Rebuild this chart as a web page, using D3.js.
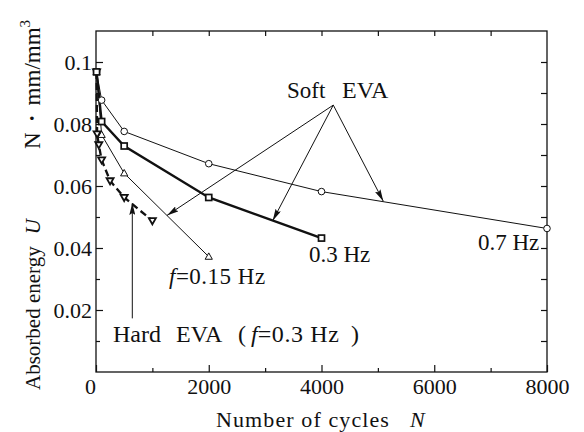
<!DOCTYPE html>
<html>
<head>
<meta charset="utf-8">
<script src="https://cdn.jsdelivr.net/npm/d3@7"></script>
<style>
  html, body { margin: 0; padding: 0; background: #fff; }
  svg { display: block; }
  text { font-family: "Liberation Serif", "Times New Roman", serif; fill: #111; }
</style>
</head>
<body>
<svg id="chart" width="584" height="432"></svg>
<script>
// Absorbed energy per cycle for soft and hard EVA
const cycles07 = [10, 100, 500, 2000, 4000, 8000];
const energy07 = [0.0968, 0.0877, 0.0776, 0.0672, 0.0582, 0.0463];

const cycles03 = [10, 100, 500, 2000, 4000];
const energy03 = [0.0968, 0.0808, 0.0729, 0.0563, 0.0432];

const cycles015 = [10, 100, 500, 2000];
const energy015 = [0.0968, 0.0765, 0.0641, 0.0372];

const cyclesHard = [10, 20, 50, 100, 250, 500, 1000];
const energyHard = [0.0968, 0.0768, 0.0733, 0.0684, 0.0617, 0.0563, 0.0488];

const xTicks = [0, 2000, 4000, 6000, 8000];
const xMinorTicks = [1000, 3000, 5000, 7000];
const yTicks = [0.02, 0.04, 0.06, 0.08, 0.1];
const yTickLabels = ["0.02", "0.04", "0.06", "0.08", "0.1"];
const yMinorTicks = [0.01, 0.03, 0.05, 0.07, 0.09];

const svg = d3.select("#chart");
const plotLeft = 96, plotRight = 547, plotTop = 31, plotBottom = 372;
const serif = '"Liberation Serif", "Times New Roman", serif';

const x = d3.scaleLinear().domain([0, 8000]).range([plotLeft, plotRight]);
const y = d3.scaleLinear().domain([0, 0.11]).range([plotBottom, plotTop]);

// frame
svg.append("rect")
  .attr("x", plotLeft).attr("y", plotTop)
  .attr("width", plotRight - plotLeft).attr("height", plotBottom - plotTop)
  .attr("fill", "none").attr("stroke", "#111").attr("stroke-width", 1.3);

function styleAxis(g) {
  g.select(".domain").remove();
  g.selectAll("line").attr("stroke", "#111").attr("stroke-width", 1.2);
  g.selectAll("text").style("font-family", serif)
    .style("font-size", "22px").attr("fill", "#111");
}

// bottom axis (ticks point inward)
svg.append("g").attr("transform", `translate(0,${plotBottom})`)
  .call(d3.axisBottom(x).tickValues(xTicks).tickSize(-7).tickPadding(6)
    .tickFormat(d => d3.format("d")(d)))
  .call(styleAxis)
  .call(g => g.selectAll(".tick text").filter(d => d === 0).attr("x", -6));
svg.append("g").attr("transform", `translate(0,${plotBottom})`)
  .call(d3.axisBottom(x).tickValues(xMinorTicks).tickSize(-4).tickFormat(""))
  .call(styleAxis);

// top axis
svg.append("g").attr("transform", `translate(0,${plotTop})`)
  .call(d3.axisTop(x).tickValues(d3.range(1000, 8000, 1000)).tickSize(-5).tickFormat(""))
  .call(styleAxis);

// left axis
svg.append("g").attr("transform", `translate(${plotLeft},0)`)
  .call(d3.axisLeft(y).tickValues(yTicks).tickSize(-7).tickPadding(4)
    .tickFormat((d, i) => yTickLabels[i]))
  .call(styleAxis);
svg.append("g").attr("transform", `translate(${plotLeft},0)`)
  .call(d3.axisLeft(y).tickValues(yMinorTicks).tickSize(-4).tickFormat(""))
  .call(styleAxis);

// right axis
svg.append("g").attr("transform", `translate(${plotRight},0)`)
  .call(d3.axisRight(y).tickValues(d3.range(1, 11).map(v => v / 100)).tickSize(-6).tickFormat(""))
  .call(styleAxis);

// axis titles
const xTitle = svg.append("text")
  .attr("x", 216).attr("y", 427)
  .style("font-size", "22px");
xTitle.append("tspan").style("letter-spacing", "1.1px").text("Number of cycles");
xTitle.append("tspan").attr("x", 410).style("font-style", "italic").text("N");

const yTitle = svg.append("text")
  .attr("transform", "translate(40,390) rotate(-90)")
  .style("font-size", "21px");
yTitle.append("tspan").text("Absorbed energy");
yTitle.append("tspan").attr("dx", 12).style("font-style", "italic").text("U");

const yUnit = svg.append("text")
  .attr("transform", "translate(40,149) rotate(-90)")
  .style("font-size", "23px");
yUnit.append("tspan").text("N");
yUnit.append("tspan").attr("dx", 2).text("・");
yUnit.append("tspan").attr("dx", 2).text("mm/mm");
yUnit.append("tspan").attr("dy", -10).style("font-size", "15px").text("3");

// series
const line = d3.line().x(d => x(d[0])).y(d => y(d[1]));
const pts07 = d3.zip(cycles07, energy07);
const pts03 = d3.zip(cycles03, energy03);
const pts015 = d3.zip(cycles015, energy015);
const ptsHard = d3.zip(cyclesHard, energyHard);

const plot = svg.append("g");

plot.append("path").datum(pts07).attr("d", line)
  .attr("fill", "none").attr("stroke", "#111").attr("stroke-width", 1);
plot.append("path").datum(pts015).attr("d", line)
  .attr("fill", "none").attr("stroke", "#111").attr("stroke-width", 1);
plot.append("path").datum(ptsHard).attr("d", line)
  .attr("fill", "none").attr("stroke", "#111").attr("stroke-width", 2.3)
  .attr("stroke-dasharray", "7,4");
plot.append("path").datum(pts03).attr("d", line)
  .attr("fill", "none").attr("stroke", "#111").attr("stroke-width", 2.4);

// markers
plot.selectAll(".m07").data(pts07).join("circle")
  .attr("cx", d => x(d[0])).attr("cy", d => y(d[1])).attr("r", 3.3)
  .attr("fill", "#fff").attr("stroke", "#111").attr("stroke-width", 1);

plot.selectAll(".m015").data(pts015).join("path")
  .attr("transform", d => `translate(${x(d[0])},${y(d[1])})`)
  .attr("d", "M0,-3.8L3.6,2.6L-3.6,2.6Z")
  .attr("fill", "#fff").attr("stroke", "#111").attr("stroke-width", 1);

plot.selectAll(".mHard").data(ptsHard).join("path")
  .attr("transform", d => `translate(${x(d[0])},${y(d[1])})`)
  .attr("d", "M0,3.6L3.5,-2.5L-3.5,-2.5Z")
  .attr("fill", "#fff").attr("stroke", "#111").attr("stroke-width", 1.8);

plot.selectAll(".m03").data(pts03).join("rect")
  .attr("x", d => x(d[0]) - 3).attr("y", d => y(d[1]) - 3)
  .attr("width", 6).attr("height", 6)
  .attr("fill", "#fff").attr("stroke", "#111").attr("stroke-width", 1.7);

// arrowheads
svg.append("defs").append("marker")
  .attr("id", "arrow").attr("markerUnits", "userSpaceOnUse")
  .attr("viewBox", "0 0 12 6").attr("refX", 12).attr("refY", 3)
  .attr("markerWidth", 12).attr("markerHeight", 6).attr("orient", "auto")
  .append("path").attr("d", "M0,0L12,3L0,6L2,3Z").attr("fill", "#111");

// Soft EVA annotation
const softFrom = [4209, 0.0861];
const softTargets = [[1259, 0.0505], [3134, 0.0488], [5096, 0.0551]];
svg.selectAll(".soft").data(softTargets).join("line")
  .attr("x1", x(softFrom[0])).attr("y1", y(softFrom[1]))
  .attr("x2", d => x(d[0])).attr("y2", d => y(d[1]))
  .attr("stroke", "#111").attr("stroke-width", 1)
  .attr("marker-end", "url(#arrow)");

// Hard EVA annotation
const hardFrom = [644, 0.0173];
const hardTo = [644, 0.0545];
svg.append("line")
  .attr("x1", x(hardFrom[0])).attr("y1", y(hardFrom[1]))
  .attr("x2", x(hardTo[0])).attr("y2", y(hardTo[1]))
  .attr("stroke", "#111").attr("stroke-width", 1)
  .attr("marker-end", "url(#arrow)");

// labels
const lbl = svg.append("g").style("font-size", "23px");
const soft = lbl.append("text").attr("y", 98);
soft.append("tspan").attr("x", 287).text("Soft");
soft.append("tspan").attr("x", 342).style("font-size", "24px").text("EVA");
lbl.append("text").attr("x", 309).attr("y", 262).text("0.3 Hz");
lbl.append("text").attr("x", 478).attr("y", 250).text("0.7 Hz");
const f015 = lbl.append("text").attr("x", 169).attr("y", 284).style("letter-spacing", "0.5px");
f015.append("tspan").style("font-style", "italic").text("f");
f015.append("tspan").text("=0.15 Hz");
const hard = lbl.append("text").attr("y", 342).style("font-size", "24px");
hard.append("tspan").attr("x", 113).text("Hard");
hard.append("tspan").attr("x", 176).text("EVA");
hard.append("tspan").attr("x", 238).text("(");
hard.append("tspan").attr("x", 251).style("font-style", "italic").text("f");
hard.append("tspan").style("letter-spacing", "0.6px").text("=0.3 Hz");
hard.append("tspan").attr("x", 351).text(")");
</script>
</body>
</html>
